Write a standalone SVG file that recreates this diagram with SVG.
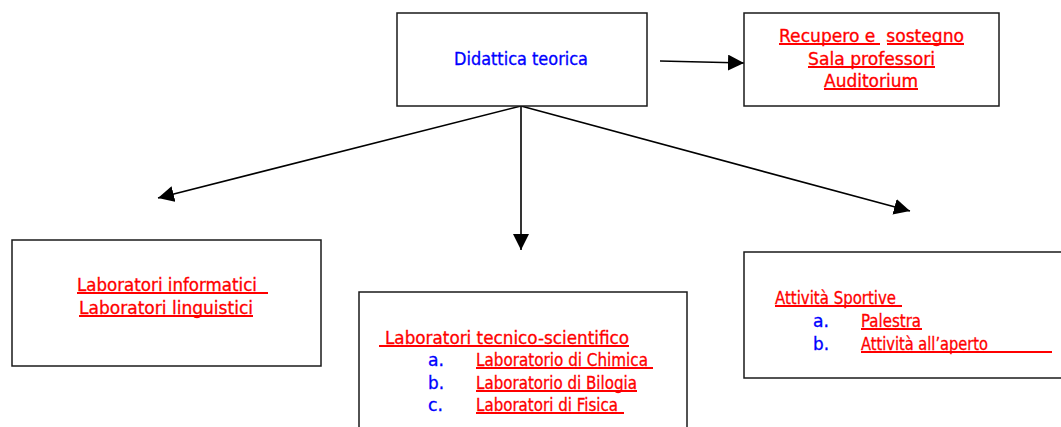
<svg xmlns="http://www.w3.org/2000/svg" width="1061" height="427" viewBox="0 0 1061 427">
<style>
.box{fill:#fff;stroke:#1a1a1a;stroke-width:1.5}
.t{font-family:"DejaVu Sans","Liberation Sans",Arial,sans-serif;font-size:18.5px;stroke-width:0.35}
.red{fill:#ff0000;stroke:#ff0000}
.blue{fill:#0000ff;stroke:#0000ff}
.ul{stroke:#ff0000;stroke-width:2}
.conn{stroke:#000;stroke-width:1.6;fill:none;marker-end:url(#ah)}
</style>
<defs>
<marker id="ah" markerUnits="userSpaceOnUse" markerWidth="17" markerHeight="17" refX="16" refY="8" orient="auto">
<path d="M0,0 L16,8 L0,16 Z" fill="#000"/>
</marker>
</defs>
<rect width="1061" height="427" fill="#fff"/>
<g id="connectors">
<line class="conn" x1="521" y1="106" x2="158" y2="198"/>
<line class="conn" x1="521" y1="106" x2="521" y2="250"/>
<line class="conn" x1="521" y1="106" x2="910" y2="211"/>
<line class="conn" x1="660" y1="61" x2="744" y2="63"/>
</g>
<g id="node-didattica">
<rect class="box" x="397" y="13" width="250" height="93"/>
<text class="t blue" x="454" y="65" textLength="134" lengthAdjust="spacingAndGlyphs">Didattica teorica</text>
</g>
<g id="node-recupero">
<rect class="box" x="744" y="13" width="255" height="93"/>
<text class="t red" x="779" y="42" textLength="185" lengthAdjust="spacingAndGlyphs" xml:space="preserve">Recupero e  sostegno</text>
<text class="t red" x="808" y="65" textLength="127" lengthAdjust="spacingAndGlyphs">Sala professori</text>
<text class="t red" x="824" y="87" textLength="94" lengthAdjust="spacingAndGlyphs">Auditorium</text>
<line class="ul" x1="779" y1="44" x2="880" y2="44"/>
<line class="ul" x1="887" y1="44" x2="964" y2="44"/>
<line class="ul" x1="808" y1="67" x2="935" y2="67"/>
<line class="ul" x1="824" y1="89" x2="918" y2="89"/>
</g>
<g id="node-lab-info">
<rect class="box" x="12" y="240" width="309" height="126"/>
<text class="t red" x="77" y="291" textLength="180" lengthAdjust="spacingAndGlyphs">Laboratori informatici</text>
<text class="t red" x="79" y="314" textLength="174" lengthAdjust="spacingAndGlyphs">Laboratori linguistici</text>
<line class="ul" x1="77" y1="293" x2="268" y2="293"/>
<line class="ul" x1="79" y1="316" x2="253" y2="316"/>
</g>
<g id="node-lab-tecnico">
<rect class="box" x="359" y="292" width="328" height="145"/>
<text class="t red" x="385" y="344" textLength="244" lengthAdjust="spacingAndGlyphs">Laboratori tecnico-scientifico</text>
<line class="ul" x1="379" y1="346" x2="629" y2="346"/>
<text class="t blue" x="428" y="366" textLength="16" lengthAdjust="spacingAndGlyphs">a.</text>
<text class="t red" x="476" y="366" textLength="172" lengthAdjust="spacingAndGlyphs">Laboratorio di Chimica</text>
<line class="ul" x1="476" y1="368" x2="653" y2="368"/>
<text class="t blue" x="428" y="389" textLength="16" lengthAdjust="spacingAndGlyphs">b.</text>
<text class="t red" x="476" y="389" textLength="161" lengthAdjust="spacingAndGlyphs">Laboratorio di Bilogia</text>
<line class="ul" x1="476" y1="391" x2="637" y2="391"/>
<text class="t blue" x="428" y="411" textLength="15" lengthAdjust="spacingAndGlyphs">c.</text>
<text class="t red" x="476" y="411" textLength="142" lengthAdjust="spacingAndGlyphs">Laboratori di Fisica</text>
<line class="ul" x1="476" y1="413" x2="624" y2="413"/>
</g>
<g id="node-attivita">
<rect class="box" x="744" y="252" width="330" height="126"/>
<text class="t red" x="775" y="304" textLength="121" lengthAdjust="spacingAndGlyphs">Attività Sportive</text>
<line class="ul" x1="775" y1="306" x2="902" y2="306"/>
<text class="t blue" x="813" y="327" textLength="16" lengthAdjust="spacingAndGlyphs">a.</text>
<text class="t red" x="861" y="327" textLength="60" lengthAdjust="spacingAndGlyphs">Palestra</text>
<line class="ul" x1="861" y1="329" x2="922" y2="329"/>
<text class="t blue" x="813" y="349.5" textLength="16" lengthAdjust="spacingAndGlyphs">b.</text>
<text class="t red" x="861" y="349.5" textLength="127" lengthAdjust="spacingAndGlyphs">Attività all’aperto</text>
<line class="ul" x1="861" y1="352" x2="1052" y2="352"/>
</g>
</svg>
